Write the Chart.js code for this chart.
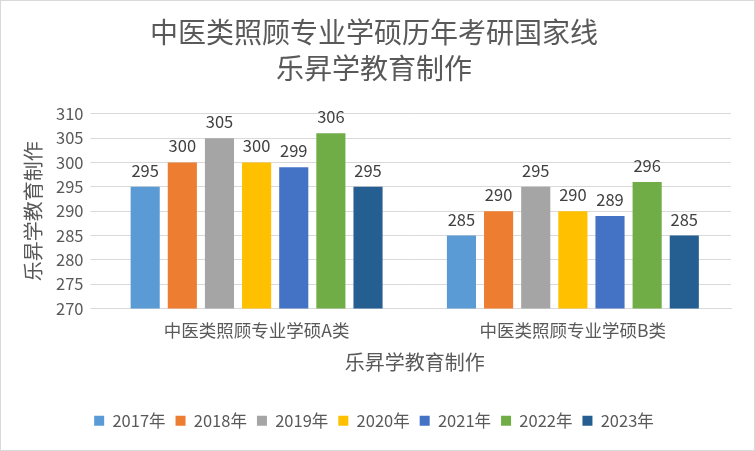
<!DOCTYPE html>
<html lang="zh">
<head>
<meta charset="UTF-8">
<title>中医类照顾专业学硕历年考研国家线</title>
<script src="https://cdn.jsdelivr.net/npm/chart.js"></script>
<style>
  html, body { margin: 0; padding: 0; background: #fff; }
  .chart-box {
    width: 753px;
    height: 449px;
    border: 1px solid #d9d9d9;
    background: #fff;
  }
</style>
</head>
<body>
<div class="chart-box"><canvas id="chart" width="753" height="449"></canvas></div>
<script>
const categories = ['中医类照顾专业学硕A类', '中医类照顾专业学硕B类'];
const years = ['2017年', '2018年', '2019年', '2020年', '2021年', '2022年', '2023年'];
const scores = [
  [295, 285],
  [300, 290],
  [305, 295],
  [300, 290],
  [299, 289],
  [306, 296],
  [295, 285]
];
const colors = ['#5b9bd5', '#ed7d31', '#a5a5a5', '#ffc000', '#4472c4', '#70ad47', '#255e91'];

const FONT = '"Noto Sans CJK SC", sans-serif';

// draw the value above each bar
const valueLabels = {
  id: 'valueLabels',
  afterDatasetsDraw(chart) {
    const ctx = chart.ctx;
    ctx.save();
    ctx.font = '16.5px ' + FONT;
    ctx.fillStyle = '#404040';
    ctx.textAlign = 'center';
    ctx.textBaseline = 'bottom';
    chart.data.datasets.forEach((ds, i) => {
      chart.getDatasetMeta(i).data.forEach((bar, j) => {
        ctx.fillText(ds.data[j], bar.x, bar.y - 8);
      });
    });
    ctx.restore();
  }
};

new Chart(document.getElementById('chart'), {
  type: 'bar',
  data: {
    labels: categories,
    datasets: years.map((y, i) => ({
      label: y,
      data: scores[i],
      backgroundColor: colors[i],
      barPercentage: 0.784,
      categoryPercentage: 0.822
    }))
  },
  options: {
    responsive: false,
    animation: false,
    layout: { padding: { left: 16, right: 23, top: 5, bottom: 11 } },
    plugins: {
      title: {
        display: true,
        text: ['中医类照顾专业学硕历年考研国家线', '乐昇学教育制作'],
        color: '#595959',
        font: { family: FONT, size: 28, weight: 'normal', lineHeight: 1.3 },
        padding: { top: 8, bottom: 27 }
      },
      legend: {
        position: 'bottom',
        labels: {
          color: '#595959',
          font: { family: FONT, size: 16.5 },
          boxWidth: 10,
          boxHeight: 10,
          padding: 10
        }
      },
      tooltip: { enabled: false }
    },
    scales: {
      x: {
        grid: { display: false },
        border: { color: '#d9d9d9' },
        ticks: { color: '#595959', font: { family: FONT, size: 17.5 }, padding: 3 },
        title: {
          display: true,
          text: '乐昇学教育制作',
          color: '#595959',
          font: { family: FONT, size: 20 },
          padding: { top: 7, bottom: 28 }
        }
      },
      y: {
        min: 270,
        max: 310,
        ticks: { stepSize: 5, color: '#595959', font: { family: FONT, size: 16.5 }, padding: 7 },
        grid: { color: '#d9d9d9' },
        border: { display: false },
        title: {
          display: true,
          text: '乐昇学教育制作',
          color: '#595959',
          font: { family: FONT, size: 20 }
        }
      }
    }
  },
  plugins: [valueLabels]
});
</script>
</body>
</html>
